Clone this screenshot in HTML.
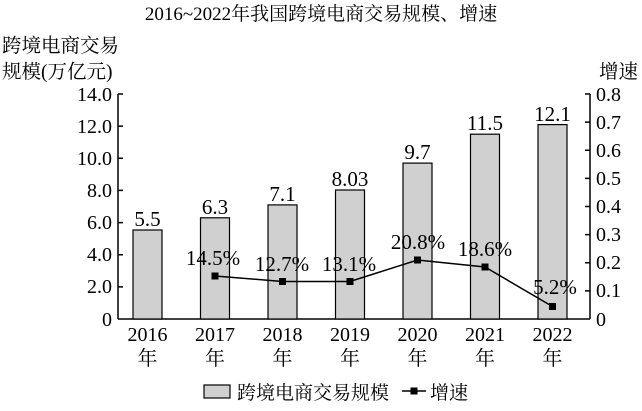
<!DOCTYPE html><html><head><meta charset="utf-8"><style>body{margin:0;background:#fff}svg text{font-family:"Liberation Serif","Noto Serif CJK SC",serif;fill:#000}</style></head><body>
<svg width="642" height="406" xmlns="http://www.w3.org/2000/svg">
<text x="321" y="20" font-size="19" text-anchor="middle">2016~2022年我国跨境电商交易规模、增速</text>
<text x="2" y="52" font-size="19.5">跨境电商交易</text>
<text x="2" y="78" font-size="19.5">规模(万亿元)</text>
<text x="638" y="78" font-size="19.5" text-anchor="end">增速</text>
<g stroke="#000" stroke-width="1.5" fill="none">
<line x1="118" y1="94" x2="118" y2="319"/><line x1="590" y1="94" x2="590" y2="319"/><line x1="118" y1="319" x2="590" y2="319"/>
<path d="M118 94h5M118 126.1h5M118 158.3h5M118 190.4h5M118 222.6h5M118 254.7h5M118 286.9h5M590 94h-5M590 122.1h-5M590 150.3h-5M590 178.4h-5M590 206.5h-5M590 234.6h-5M590 262.8h-5M590 290.9h-5"/>
</g>
<g font-size="20" text-anchor="end">
<text x="112" y="101">14.0</text><text x="112" y="133">12.0</text><text x="112" y="165">10.0</text><text x="112" y="197">8.0</text><text x="112" y="229">6.0</text><text x="112" y="261">4.0</text><text x="112" y="293">2.0</text><text x="112" y="326">0</text>
</g>
<g font-size="20">
<text x="596" y="101">0.8</text><text x="596" y="129">0.7</text><text x="596" y="157">0.6</text><text x="596" y="185">0.5</text><text x="596" y="213">0.4</text><text x="596" y="241">0.3</text><text x="596" y="269">0.2</text><text x="596" y="297">0.1</text><text x="596" y="326">0</text>
</g>
<g fill="#d0d0d0" stroke="#000" stroke-width="1.2">
<rect x="133" y="230" width="29" height="89"/>
<rect x="200.5" y="217.8" width="29" height="101.2"/>
<rect x="268" y="204.9" width="29" height="114.1"/>
<rect x="335.5" y="190" width="29" height="129"/>
<rect x="403" y="163.1" width="29" height="155.9"/>
<rect x="470.5" y="134.2" width="29" height="184.8"/>
<rect x="538" y="124.6" width="29" height="194.4"/>
</g>
<g font-size="21" text-anchor="middle">
<text x="147.5" y="226">5.5</text><text x="215" y="214">6.3</text><text x="282.5" y="201">7.1</text><text x="350" y="186">8.03</text><text x="417.5" y="159">9.7</text><text x="485" y="130">11.5</text><text x="552.5" y="121">12.1</text>
</g>
<polyline fill="none" stroke="#000" stroke-width="1.5" points="215,276 282.5,281.5 350,281.5 417.5,260 485,267 552.5,306.5"/>
<g fill="#000">
<rect x="211.5" y="272.5" width="7" height="7"/><rect x="279" y="278" width="7" height="7"/><rect x="346.5" y="278" width="7" height="7"/><rect x="414" y="256.5" width="7" height="7"/><rect x="481.5" y="263.5" width="7" height="7"/><rect x="549" y="303" width="7" height="7"/>
</g>
<g font-size="21" text-anchor="middle">
<text x="213" y="265">14.5%</text><text x="282" y="271">12.7%</text><text x="349" y="271">13.1%</text><text x="418" y="249">20.8%</text><text x="485" y="256">18.6%</text><text x="555" y="294">5.2%</text>
</g>
<g font-size="20" text-anchor="middle">
<text x="147.5" y="341">2016</text><text x="215" y="341">2017</text><text x="282.5" y="341">2018</text><text x="350" y="341">2019</text><text x="417.5" y="341">2020</text><text x="485" y="341">2021</text><text x="552.5" y="341">2022</text>
<text x="147.5" y="365">年</text><text x="215" y="365">年</text><text x="282.5" y="365">年</text><text x="350" y="365">年</text><text x="417.5" y="365">年</text><text x="485" y="365">年</text><text x="552.5" y="365">年</text>
</g>
<rect x="204" y="385" width="26" height="13" fill="#d0d0d0" stroke="#000" stroke-width="1.2"/>
<text x="237" y="399" font-size="19">跨境电商交易规模</text>
<line x1="402" y1="391" x2="426" y2="391" stroke="#000" stroke-width="1.5"/><rect x="410.5" y="387.5" width="7" height="7"/>
<text x="430" y="399" font-size="19">增速</text>
</svg></body></html>
